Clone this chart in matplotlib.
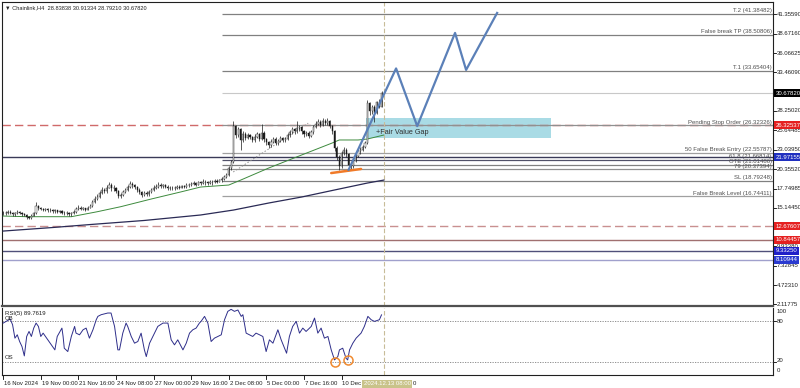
import matplotlib
matplotlib.use('Agg')
import matplotlib.pyplot as plt
from matplotlib.patches import Rectangle
import matplotlib.transforms as mtrans

plt.rcParams['font.family'] = ['Liberation Sans', 'DejaVu Sans']

# ---------------- data ----------------
title_text = "\u25bc Chainlink,H4  28.83838 30.91334 28.79210 30.67820"
first_open = 14.4
closes = [14.5, 14.4, 14.6, 14.5, 14.3, 14.4, 14.6, 14.5, 14.3, 14.2,
          13.9, 13.8, 14.1, 14.4, 15.4, 15.1, 15.0, 14.9, 15.0, 14.8,
          14.9, 14.7, 14.8, 14.6, 14.7, 14.5, 14.4, 14.5, 14.3, 14.4,
          14.6, 15.0, 15.2, 15.0, 15.1, 14.9, 15.2, 15.4, 15.9, 16.4,
          16.6, 17.2, 17.6, 17.4, 17.9, 18.3, 17.8, 17.9, 17.5, 16.8,
          16.9, 17.3, 17.6, 18.0, 18.4, 18.2, 18.0, 17.6, 17.3, 16.9,
          17.2, 17.0, 17.3, 17.6, 17.9, 18.0, 18.3, 18.1, 18.2, 18.0,
          17.8, 17.9, 17.8, 17.9, 18.0, 17.9, 18.1, 18.0, 18.3, 18.2,
          18.4, 18.5, 18.3, 18.6, 18.5, 18.7, 18.6, 18.5, 18.7, 18.6,
          18.8, 18.7, 18.9, 19.0, 19.3, 19.6, 20.5, 21.3, 26.2, 25.0,
          25.8, 24.3, 25.2, 24.6, 25.0, 24.7, 24.3, 24.8, 25.1, 24.5,
          25.3, 24.4, 24.0, 23.6, 24.1, 24.5, 23.9, 24.2, 24.6, 24.3,
          24.5, 25.0, 25.4, 25.8, 25.5, 25.9, 26.1, 25.5, 25.1, 25.3,
          24.9, 25.4, 26.1, 26.5, 26.8, 26.4, 26.9, 26.6, 26.9, 26.2,
          25.5, 23.2, 22.0, 20.8, 22.6, 23.0, 22.4, 21.0, 20.8, 21.5,
          22.2, 22.8, 23.0, 23.4, 23.9, 29.3, 28.2, 28.8, 28.0, 29.4,
          28.838, 30.678]
highs = [14.7, 14.7, 14.8, 14.8, 14.6, 14.6, 14.8, 14.7, 14.6, 14.5,
         14.3, 14.1, 14.3, 14.6, 16.0, 15.6, 15.3, 15.2, 15.2, 15.1,
         15.1, 15.0, 15.0, 14.9, 14.9, 14.8, 14.7, 14.7, 14.6, 14.6,
         14.8, 15.3, 15.5, 15.4, 15.3, 15.2, 15.4, 15.7, 16.2, 16.8,
         17.0, 17.5, 18.0, 17.8, 18.2, 18.6, 18.5, 18.2, 18.0, 17.6,
         17.2, 17.6, 17.9, 18.3, 18.8, 18.6, 18.4, 18.1, 17.8, 17.4,
         17.5, 17.4, 17.6, 17.9, 18.2, 18.4, 18.6, 18.5, 18.4, 18.4,
         18.2, 18.1, 18.1, 18.1, 18.2, 18.2, 18.3, 18.3, 18.5, 18.5,
         18.6, 18.8, 18.7, 18.8, 18.8, 19.0, 18.9, 18.8, 18.9, 18.9,
         19.0, 19.0, 19.1, 19.3, 19.6, 19.9, 20.8, 21.6, 26.9, 26.4,
         26.1, 26.0, 25.5, 25.4, 25.3, 25.2, 24.9, 25.1, 25.4, 25.3,
         26.5, 25.5, 24.6, 24.2, 24.4, 24.8, 24.7, 24.5, 24.9, 24.8,
         24.8, 25.3, 25.7, 26.1, 26.0, 26.9, 26.4, 26.2, 25.7, 25.6,
         25.5, 25.7, 26.4, 26.9, 27.2, 27.0, 27.3, 27.1, 27.3, 27.0,
         26.4, 25.7, 23.5, 22.3, 22.9, 23.4, 23.2, 22.6, 21.4, 21.8,
         22.5, 23.1, 23.4, 23.7, 24.2, 29.7, 29.5, 29.1, 29.0, 29.6,
         29.9, 30.91334]
lows = [14.2, 14.2, 14.3, 14.3, 14.1, 14.1, 14.3, 14.3, 14.1, 14.0,
        13.7, 13.6, 13.7, 14.0, 14.3, 14.9, 14.8, 14.7, 14.7, 14.6,
        14.6, 14.5, 14.5, 14.4, 14.4, 14.3, 14.2, 14.2, 14.1, 14.1,
        14.3, 14.5, 14.9, 14.8, 14.8, 14.7, 14.8, 15.1, 15.3, 15.8,
        16.2, 16.5, 17.0, 17.1, 17.2, 17.8, 17.5, 17.5, 17.2, 16.5,
        16.5, 16.8, 17.1, 17.5, 17.9, 17.9, 17.7, 17.3, 17.0, 16.6,
        16.7, 16.7, 16.8, 17.1, 17.4, 17.7, 17.9, 17.8, 17.9, 17.8,
        17.6, 17.6, 17.6, 17.6, 17.7, 17.7, 17.8, 17.8, 17.9, 18.0,
        18.1, 18.2, 18.1, 18.2, 18.3, 18.4, 18.3, 18.2, 18.4, 18.3,
        18.5, 18.5, 18.6, 18.7, 18.9, 19.2, 19.5, 20.3, 21.2, 24.6,
        24.8, 23.0, 24.0, 24.3, 24.4, 24.4, 24.0, 24.1, 24.6, 24.2,
        24.3, 24.1, 23.7, 23.2, 23.4, 23.9, 23.6, 23.7, 24.0, 24.0,
        24.1, 24.3, 24.8, 25.2, 25.1, 25.3, 25.6, 25.2, 24.8, 24.9,
        24.6, 24.7, 25.2, 25.9, 26.3, 26.1, 26.2, 26.3, 26.4, 25.9,
        25.1, 22.9, 21.6, 20.3, 20.6, 22.3, 22.0, 20.6, 20.26, 20.5,
        21.3, 22.0, 22.5, 22.8, 23.2, 23.8, 27.7, 27.9, 26.8, 27.8,
        28.6, 28.7921]

# moving averages (bar, value)
ma_green_bar = [0, 10, 29, 40, 50, 63, 76, 84, 96, 101, 113, 127, 140, 143, 151, 155, 162]
ma_green_val = [14.05, 13.96, 13.96, 14.63, 15.31, 16.35, 17.34, 17.97, 18.24, 18.9, 20.54, 22.3, 23.92, 24.33, 24.33, 24.46, 25.0]
ma_navy_bar = [0, 22, 37, 60, 84, 98, 113, 127, 141, 155, 162]
ma_navy_val = [12.02, 12.52, 12.9, 13.45, 14.19, 14.86, 15.81, 16.62, 17.57, 18.51, 18.91]

# RSI(5) (bar, value)
rsi_bar = [0, 3, 4, 5, 6, 7, 8, 9, 10, 11, 12, 13, 14, 15, 16, 17, 19, 20, 22, 23,
           25, 25.5, 26, 27.5, 29, 30.4, 31, 32.5, 34, 35.3, 36.7, 38.2, 39.6, 40.3, 41.7, 44.5,
           45.9, 47.4, 48.8, 49.5, 50.9, 52.3, 53, 54.5, 55.9, 57.3, 58.7, 60.1, 60.9, 62.3,
           63.7, 65.8, 68, 70.1, 71.5, 72.9, 74.3, 76.5, 77.9, 79.3, 80.7, 82.1, 83.5, 84.2,
           85.7, 87.1, 88.5, 89.9, 92.8, 94.2, 95.6, 97, 98.4, 99.9, 101.3, 102, 103.4, 104.8,
           106.2, 107.6, 109.1, 110.5, 111.9, 113.3, 114.8, 116.9, 118.3, 120.6, 121.8, 123.2,
           124.7, 126.1, 127.5, 128.9, 131.1, 132.5, 133.9, 135.3, 136.7, 138.2, 139.6, 141,
           142.4, 143.1, 144.5, 145.9, 146.6, 147.4, 148.8, 150.2, 152.3, 153.7, 155.2, 156.6,
           158, 160.1, 161]
rsi_val = [77.5, 83.5, 75, 55, 60, 50, 42.5, 28.5, 57.5, 65, 57.5, 70, 77.5, 72.5, 57.5, 62.5, 52.5, 47.5, 37.5, 57.5,
           70, 57.5, 40, 35, 57.5, 72.5, 62.5, 60, 67.5, 70, 55, 67.5, 82.5, 87.5, 90, 92.5,
           92.5, 72.5, 37.5, 37.5, 62.5, 77.5, 72.5, 57.5, 47.5, 50, 62.5, 37.5, 27.5, 47.5,
           57.5, 72.5, 77.5, 77.5, 52.5, 45, 52.5, 37.5, 47.5, 62.5, 67.5, 70, 77.5, 80,
           87.5, 77.5, 50, 55, 60, 82.5, 95, 98, 95, 97, 87.5, 90, 62.5, 60,
           57.5, 62.5, 60, 57.5, 35, 52.5, 47.5, 67.5, 52.5, 32.5, 57.5, 72.5,
           80, 62.5, 70, 65, 72.5, 85, 62.5, 70, 55, 57.5, 37.5, 22.5,
           27.5, 37.5, 40, 25, 22.5, 37.5, 47.5, 55, 62.5, 72.5, 87.5, 82.5,
           80, 82.5, 89.76]
rsi_label = "RSI(5) 89.7619"

# annotated levels (start at bar 93)
level_labels = ["T.2 (41.38482)", "False break TP (38.50806)", "T.1 (33.65404)",
                "Pending Stop Order (26.32326)", "50 False Break Entry (22.55787)",
                "61.8 (21.66814)", "OTE (21.01486)", "79 (20.37394)",
                "SL (18.79248)", "False Break Level (16.74411)"]
level_values = [41.38482, 38.50806, 33.65404, 26.32326, 22.55787,
                21.66814, 21.01486, 20.37394, 18.79248, 16.74411]
current_price = 30.6782

# full-width levels with coloured price boxes
full_values = [26.32537, 21.97155, 12.67607, 10.84457, 9.33250, 8.10944]
full_labels = ["26.32537", "21.97155", "12.67607", "10.84457", "9.33250", "8.10944"]

# right axis ticks
price_ticks = [41.35590, 38.67160, 36.06625, 33.46090, 28.25020, 25.64485, 23.03950,
               20.35520, 17.74985, 15.14450, 12.53915, 9.93380, 7.32845, 4.72310, 2.11775]

# projected zigzag path
zig_bar = [147, 167.2, 176.2, 192.3, 197, 210.2]
zig_val = [20.3, 34.0, 26.2, 38.8, 33.8, 41.5]

# fair value gap
fvg_bar = [154.5, 233]
fvg_val = [24.56, 27.34]

# orange support line and dotted trend line
orange_bar = [139.6, 152.3]
orange_val = [19.86, 20.41]
dotted_bar = [97.9, 129.8]
dotted_val = [20.0, 26.6]

# RSI circles
circle_bar = [141.3, 146.8]
circle_val = [20, 22.5]

# x-axis labels
xtick_bars = [0, 16, 32, 48, 64, 80, 96, 112, 128, 144]
xtick_labels = ["16 Nov 2024", "19 Nov 00:00", "21 Nov 16:00", "24 Nov 08:00", "27 Nov 00:00",
                "29 Nov 16:00", "2 Dec 08:00", "5 Dec 00:00", "7 Dec 16:00", "10 Dec"]
vline_bar = 162
vline_label = "2024.12.13 08:00"

# ---------------- figure ----------------
W, H = 800, 388
fig = plt.figure(figsize=(W / 100, H / 100), dpi=100)
fig.patch.set_facecolor('white')

def fx(px):
    return px / W

def fy(py):
    return 1 - py / H

ax = fig.add_axes([fx(2), fy(306), fx(771), (306 - 2) / H])
ar = fig.add_axes([fx(2), fy(375), fx(771), (375 - 308) / H])

xmin, xmax = -0.5, 327.6
ax.set_xlim(xmin, xmax)
ar.set_xlim(xmin, xmax)
ax.set_ylim(1.89, 42.98)
ar.set_ylim(0, 100)

for a in (ax, ar):
    a.set_xticks([])
    a.set_yticks([])
    for s in a.spines.values():
        s.set_color('#202020')
        s.set_linewidth(0.8)
ax.spines['bottom'].set_linewidth(1.6)
ax.spines['bottom'].set_color('#505050')
ar.spines['top'].set_visible(False)

tsize = 4.3
gray_txt = '#505050'

# fair value gap rectangle
ax.add_patch(Rectangle((fvg_bar[0], fvg_val[0]), fvg_bar[1] - fvg_bar[0], fvg_val[1] - fvg_val[0],
                       facecolor='#a9dbe5', edgecolor='none', zorder=1))
ax.text(158.7, 25.3, "+Fair Value Gap", fontsize=5.2, color='#303030', va='center', ha='left', zorder=6)

# annotated levels
start_bar = 93
level_colors = ['#808080', '#808080', '#808080', '#909090', '#a0a0a0',
                '#505068', '#808080', '#909090', '#808080', '#a0a0a0']
for v, lab, c in zip(level_values, level_labels, level_colors):
    ax.hlines(v, start_bar, xmax, color=c, lw=0.9, zorder=2)
    ax.text(xmax - 0.6, v + 0.08, lab, fontsize=tsize, color=gray_txt, ha='right', va='bottom', zorder=6)
ax.hlines(current_price, start_bar, xmax, color='#c8c8c8', lw=0.8, zorder=2)

# full-width levels
full_styles = [dict(color='#d06a6a', ls=(0, (6, 3)), lw=1.0),
               dict(color='#3a3a58', ls='-', lw=1.0),
               dict(color='#c99090', ls=(0, (6, 3)), lw=1.0),
               dict(color='#a07070', ls='-', lw=1.0),
               dict(color='#50507a', ls='-', lw=1.0),
               dict(color='#a0a0cc', ls='-', lw=1.0)]
for v, st in zip(full_values, full_styles):
    ax.axhline(v, zorder=1.5, **st)

# moving averages
ax.plot(ma_green_bar, ma_green_val, color='#3d8a3d', lw=0.7, zorder=3)
ax.plot(ma_navy_bar, ma_navy_val, color='#2a2a55', lw=0.9, zorder=3)

# dotted trend line
ax.plot(dotted_bar, dotted_val, color='#909090', lw=0.7, ls=(0, (1.5, 2)), zorder=3)

# candles
opens = [first_open] + closes[:-1]
xs = list(range(len(closes)))
ax.vlines(xs, lows, highs, color='#1a1a1a', lw=0.5, zorder=4)
for i, (o, c) in enumerate(zip(opens, closes)):
    lo, hi = min(o, c), max(o, c)
    if hi - lo < 0.05:
        hi = lo + 0.05
    ax.add_patch(Rectangle((i - 0.25, lo), 0.5, hi - lo,
                           facecolor='white' if c >= o else '#1a1a1a',
                           edgecolor='#1a1a1a', lw=0.3, zorder=4.5))

# orange line
ax.plot(orange_bar, orange_val, color='#f07a28', lw=1.8, zorder=5, solid_capstyle='round')

# zigzag projection
ax.plot(zig_bar, zig_val, color='#5b80b8', lw=1.6, zorder=5)

# vertical dashed line
for a in (ax, ar):
    a.axvline(vline_bar, color='#c8bc98', lw=0.8, ls=(0, (4, 2)), zorder=2)

# title
ax.text(0.004, 0.988, title_text, transform=ax.transAxes, fontsize=4.1, color='#202020',
        ha='left', va='top', zorder=7)

# right price axis
trans_r = mtrans.blended_transform_factory(ax.transAxes, ax.transData)
for t in price_ticks:
    ax.plot([1.0, 1.004], [t, t], transform=trans_r, color='black', lw=0.6, clip_on=False)
    ax.text(1.0045, t, f"{t:.5f}", transform=trans_r, fontsize=tsize, color='#202020',
            ha='left', va='center', clip_on=False)
box_colors = ['#e52020', '#2030c0', '#e52020', '#e52020', '#2020c8', '#2a3ad0']
for v, lab, bc in zip(full_values, full_labels, box_colors):
    ax.text(1.0035, v, lab, transform=trans_r, fontsize=tsize, color='white', ha='left', va='center',
            clip_on=False, zorder=8,
            bbox=dict(boxstyle='square,pad=0.25', fc=bc, ec='none'))
ax.text(1.0035, current_price, "30.67820", transform=trans_r, fontsize=tsize, color='white',
        ha='left', va='center', clip_on=False, zorder=8,
        bbox=dict(boxstyle='square,pad=0.25', fc='black', ec='none'))

# RSI panel
ar.plot(rsi_bar, rsi_val, color='#2e2e8a', lw=0.7, zorder=3)
for lvl in (80, 20):
    ar.axhline(lvl, color='#808080', lw=0.6, ls=(0, (1.5, 1.5)), zorder=2)
ar.plot(circle_bar, circle_val, ls='none', marker='o', ms=6.5, mfc='none', mec='#f08a30', mew=1.1, zorder=5)
trans_rl = mtrans.blended_transform_factory(ar.transAxes, ar.transData)
ar.text(0.004, 96, rsi_label, transform=trans_rl, fontsize=tsize, color='#202020', ha='left', va='top')
ar.text(0.004, 84, "OB", transform=trans_rl, fontsize=tsize, color='#202020', ha='left', va='center')
ar.text(0.004, 26, "OS", transform=trans_rl, fontsize=tsize, color='#202020', ha='left', va='center')
for val, lab in [(94.5, "100"), (79.5, "80"), (21, "20"), (6.4, "0")]:
    ar.text(1.0045, val, lab, transform=trans_rl, fontsize=tsize, color='#202020',
            ha='left', va='center', clip_on=False)
for lvl in (80, 20):
    ar.plot([1.0, 1.004], [lvl, lvl], transform=trans_rl, color='black', lw=0.6, clip_on=False)

# x-axis labels
trans_b = mtrans.blended_transform_factory(ar.transData, ar.transAxes)
for b, lab in zip(xtick_bars, xtick_labels):
    ar.plot([b, b], [0, -0.06], transform=trans_b, color='black', lw=0.6, clip_on=False)
    ar.text(b + 0.4, -0.09, lab, transform=trans_b, fontsize=tsize, color='#202020',
            ha='left', va='top', clip_on=False)
ar.text(vline_bar + 1.5, -0.09, vline_label, transform=trans_b, fontsize=tsize, color='white',
        ha='center', va='top', clip_on=False, zorder=9,
        bbox=dict(boxstyle='square,pad=0.25', fc='#c9c38a', ec='none'))
ar.text(174.5, -0.09, "0", transform=trans_b, fontsize=tsize, color='#202020',
        ha='left', va='top', clip_on=False)

fig.savefig('out.png', dpi=100, facecolor='white')
